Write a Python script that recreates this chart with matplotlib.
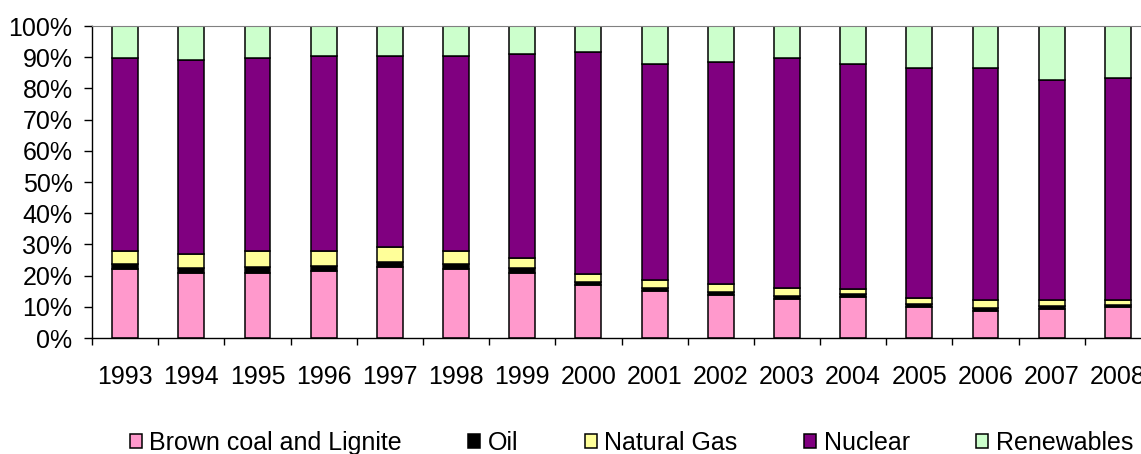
import matplotlib.pyplot as plt
import numpy as np
from matplotlib.ticker import PercentFormatter

plt.rcParams["font.family"] = ["Liberation Sans", "DejaVu Sans"]

YEARS = [str(y) for y in range(1993, 2009)]
SERIES = ["Brown coal and Lignite", "Oil", "Natural Gas", "Nuclear", "Renewables"]
COLORS = ["#FF99CC", "#000000", "#FFFF99", "#800080", "#CCFFCC"]

# shares in percent
brown = [22.1, 20.8, 20.8, 21.6, 22.8, 22.1, 20.8, 17.0, 15.1, 13.8, 12.5, 13.2, 10.0, 8.8, 9.4, 10.0]
oil = [1.7, 1.6, 1.8, 1.6, 1.6, 1.7, 1.7, 1.1, 1.0, 1.0, 1.1, 0.9, 0.9, 0.8, 0.9, 0.6]
gas = [4.2, 4.4, 5.4, 4.8, 4.9, 4.2, 3.0, 2.3, 2.4, 2.5, 2.3, 1.7, 1.8, 2.6, 1.9, 1.6]
nuclear = [61.8, 62.3, 61.7, 62.3, 61.0, 62.3, 65.4, 71.2, 69.2, 71.2, 73.8, 72.0, 73.9, 74.4, 70.5, 71.1]
renewables = [10.2, 10.9, 10.3, 9.7, 9.7, 9.7, 9.1, 8.4, 12.3, 11.5, 10.3, 12.2, 13.4, 13.4, 17.3, 16.7]

fig = plt.figure(figsize=(11.41, 4.54), dpi=100)
# the plot area runs past the right edge, as in the original (2008 is clipped)
ax = fig.add_axes([92 / 1141, 116 / 454, 1059 / 1141, 312 / 454])

x = np.arange(len(YEARS))
bottom = np.zeros(len(YEARS))
handles = []
for name, vals, col in zip(SERIES, [brown, oil, gas, nuclear, renewables], COLORS):
    vals = np.array(vals)
    b = ax.bar(x, vals, 0.39, bottom=bottom, color=col, edgecolor="black",
               linewidth=1.1, label=name)
    handles.append(b)
    bottom += vals

ax.set_xlim(-0.5, len(YEARS) - 0.5)
ax.set_ylim(0, 100)
ax.set_yticks(np.arange(0, 101, 10))
ax.yaxis.set_major_formatter(PercentFormatter(decimals=0))
ax.set_xticks(x)
ax.set_xticklabels(YEARS)
ax.set_xticks(np.arange(-0.5, len(YEARS), 1), minor=True)
ax.tick_params(axis="x", which="major", length=0, pad=19.5, labelsize=18)
ax.tick_params(axis="x", which="minor", length=5, width=1, color="black")
ax.tick_params(axis="y", length=6, width=1, labelsize=18, pad=8)

ax.spines["top"].set_color("#808080")
ax.spines["right"].set_visible(False)
ax.spines["left"].set_linewidth(1)
ax.spines["bottom"].set_linewidth(1)

fig.legend(handles=handles, labels=SERIES, loc="center", ncol=5,
           bbox_to_anchor=(0.5535, 0.024), frameon=False, fontsize=18,
           handlelength=0.48, handleheight=0.48, handletextpad=0.3,
           columnspacing=2.66, borderpad=0)

fig.savefig("out.png", dpi=100)
